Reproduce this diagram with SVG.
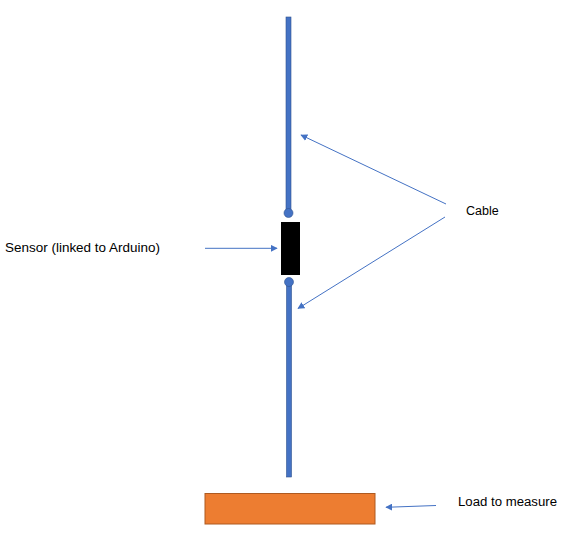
<svg xmlns="http://www.w3.org/2000/svg" width="571" height="548" viewBox="0 0 571 548">
<style>
.lbl{font-family:"Liberation Sans",Arial,sans-serif;font-size:12.5px;fill:#000}
.cable{fill:#4472C4;stroke:#2F528F;stroke-width:0.6}
.arr{stroke:#4472C4;stroke-width:1;fill:none;marker-end:url(#ah)}
</style>
<defs>
<marker id="ah" viewBox="0 0 10 10" refX="9" refY="5" markerWidth="7" markerHeight="7" markerUnits="userSpaceOnUse" orient="auto">
<path d="M0,0 L10,5 L0,10 z" fill="#4472C4"/>
</marker>
</defs>
<rect width="571" height="548" fill="#fff"/>
<g id="cable-top">
<rect class="cable" x="286" y="17" width="5" height="196"/>
<circle class="cable" cx="288.5" cy="213" r="4.5"/>
</g>
<g id="sensor">
<rect x="281" y="222" width="19" height="53" fill="#000"/>
</g>
<g id="cable-bottom">
<rect class="cable" x="286.5" y="282" width="5" height="195"/>
<circle class="cable" cx="289" cy="282" r="4.5"/>
</g>
<g id="load">
<rect x="205" y="493.5" width="170" height="30.5" fill="#ED7D31" stroke="#AE5A21" stroke-width="1"/>
</g>
<g id="label-cable"><text class="lbl" x="466" y="215">Cable</text></g>
<g id="label-sensor"><text class="lbl" x="5" y="252" textLength="155" lengthAdjust="spacingAndGlyphs">Sensor (linked to Arduino)</text></g>
<g id="label-load"><text class="lbl" x="458" y="506" textLength="99" lengthAdjust="spacingAndGlyphs">Load to measure</text></g>
<g id="connectors">
<line class="arr" x1="446" y1="204" x2="301" y2="135"/>
<line class="arr" x1="445" y1="217" x2="298" y2="308.5"/>
<line class="arr" x1="205" y1="248.3" x2="277" y2="248.3"/>
<line class="arr" x1="436" y1="505.5" x2="386" y2="507.3"/>
</g>
</svg>
